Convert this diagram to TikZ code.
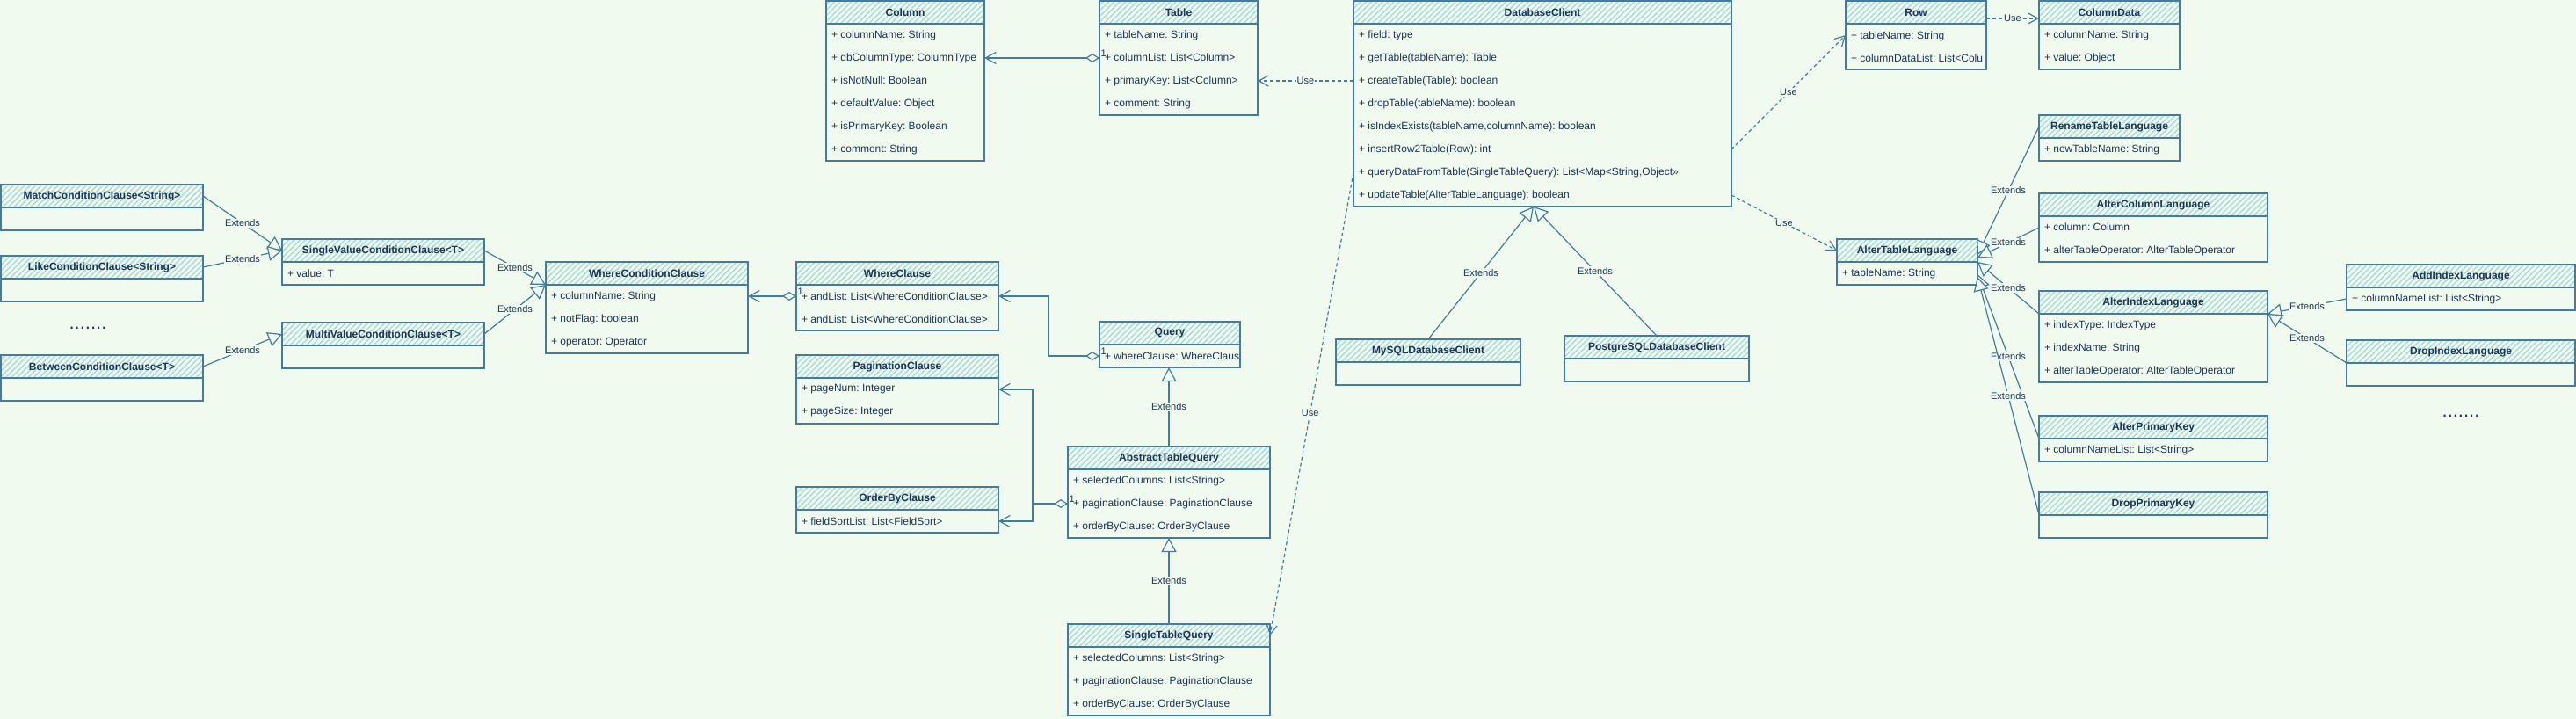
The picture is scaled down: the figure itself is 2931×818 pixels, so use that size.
\documentclass[tikz,border=0pt]{standalone}
\usepackage{fontspec}
\setmainfont{Liberation Sans}
\usetikzlibrary{arrows.meta,calc,patterns.meta}
\definecolor{bg}{HTML}{F1FAEE}
\definecolor{strk}{HTML}{457B9D}
\definecolor{hatch}{HTML}{A8DADC}
\definecolor{txt}{HTML}{1D3557}
\tikzset{
  hdr/.style={draw=strk, line width=1.3pt, pattern={Lines[angle=45,distance=4.5pt,line width=1.4pt]}, pattern color=hatch, minimum height=26pt, inner sep=0pt, outer sep=0pt, font=\fontsize{12}{14}\selectfont\bfseries, text=txt},
  bodybox/.style={draw=strk, line width=1.3pt, inner sep=0pt, outer sep=0pt},
  rowtext/.style={inner xsep=6pt, inner ysep=0pt, outer sep=0pt, align=left, font=\fontsize{12}{26}\selectfont, text=txt},
  lbl/.style={fill=bg, inner sep=1pt, font=\fontsize{11}{13}\selectfont, text=txt},
  mult/.style={inner sep=0pt, font=\fontsize{11}{13}\selectfont, text=txt},
  dotsnode/.style={inner sep=0pt, font=\fontsize{22}{24}\selectfont, text=txt},
  edge/.style={draw=strk, line width=1.2pt},
  ext/.style={edge, -{Triangle[fill=bg, length=16pt, width=17pt]}},
  agg/.style={edge, {Diamond[fill=bg, length=16pt, width=10pt]}-{Straight Barb[length=12pt, width=13pt]}},
  aggo/.style={edge, -{Straight Barb[length=12pt, width=13pt]}},
  use/.style={edge, dash pattern=on 4pt off 3pt, -{Straight Barb[length=11pt, width=12pt]}},
}
\newcommand{\umlcls}[7]{%
  \pgfmathsetmacro{\clsh}{26*#6}%
  \node[hdr, minimum width=#4pt, anchor=north west] (#1) at (#2,#3) {#5};
  \node[bodybox, minimum width=#4pt, minimum height=\clsh pt, anchor=north west] (#1B) at (#1.south west) {};
  \node[rowtext, minimum height=\clsh pt, anchor=north west] (#1T) at (#1B.north west) {#7};
}
\begin{document}
\frenchspacing
\begin{tikzpicture}[x=1pt,y=-1pt]
\fill[bg] (0,0) rectangle (2931,818);
\useasboundingbox (0,0) rectangle (2931,818);

% left: condition clauses
\umlcls{mcc}{1}{210}{230}{MatchConditionClause<String>}{1}{}
\umlcls{lcc}{1}{291}{230}{LikeConditionClause<String>}{1}{}
\umlcls{bcc}{1}{404}{230}{BetweenConditionClause<T>}{1}{}
\umlcls{svc}{321}{272}{230}{SingleValueConditionClause<T>}{1}{+ value: T}
\umlcls{mvc}{321}{367}{230}{MultiValueConditionClause<T>}{1}{}
\umlcls{wcc}{621}{298}{230}{WhereConditionClause}{3}{+ columnName: String\\+ notFlag: boolean\\+ operator: Operator}
\node[dotsnode] (dots1) at (100,373) {.......};

% clauses
\umlcls{wc}{906}{298}{230}{WhereClause}{2}{+ andList: List<WhereConditionClause>\\+ andList: List<WhereConditionClause>}
\umlcls{pc}{906}{404}{230}{PaginationClause}{2}{+ pageNum: Integer\\+ pageSize: Integer}
\umlcls{ob}{906}{554}{230}{OrderByClause}{1}{+ fieldSortList: List<FieldSort>}

% queries
\umlcls{qry}{1251}{366}{160}{Query}{1}{+ whereClause: WhereClaus}
\umlcls{atq}{1215}{508}{230}{AbstractTableQuery}{3}{+ selectedColumns: List<String>\\+ paginationClause: PaginationClause\\+ orderByClause: OrderByClause}
\umlcls{stq}{1215}{710}{230}{SingleTableQuery}{3}{+ selectedColumns: List<String>\\+ paginationClause: PaginationClause\\+ orderByClause: OrderByClause}

% top
\umlcls{col}{940}{1}{180}{Column}{6}{+ columnName: String\\+ dbColumnType: ColumnType\\+ isNotNull: Boolean\\+ defaultValue: Object\\+ isPrimaryKey: Boolean\\+ comment: String}
\umlcls{tbl}{1251}{1}{180}{Table}{4}{+ tableName: String\\+ columnList: List<Column>\\+ primaryKey: List<Column>\\+ comment: String}
\umlcls{dbc}{1540}{1}{430}{DatabaseClient}{8}{+ field: type\\+ getTable(tableName): Table\\+ createTable(Table): boolean\\+ dropTable(tableName): boolean\\+ isIndexExists(tableName,columnName): boolean\\+ insertRow2Table(Row): int\\+ queryDataFromTable(SingleTableQuery): List<Map<String,Object>>\\+ updateTable(AlterTableLanguage): boolean}
\umlcls{my}{1520}{386}{210}{MySQLDatabaseClient}{1}{}
\umlcls{pg}{1780}{382}{210}{PostgreSQLDatabaseClient}{1}{}
\umlcls{row}{2100}{1}{160}{Row}{2}{+ tableName: String\\+ columnDataList: List<Colu}
\umlcls{cd}{2320}{1}{160}{ColumnData}{2}{+ columnName: String\\+ value: Object}

% right: alter languages
\umlcls{rtl}{2320}{131}{160}{RenameTableLanguage}{1}{+ newTableName: String}
\umlcls{acl}{2320}{220}{260}{AlterColumnLanguage}{2}{+ column: Column\\+ alterTableOperator: AlterTableOperator}
\umlcls{atl}{2090}{272}{160}{AlterTableLanguage}{1}{+ tableName: String}
\umlcls{ail}{2320}{331}{260}{AlterIndexLanguage}{3}{+ indexType: IndexType\\+ indexName: String\\+ alterTableOperator: AlterTableOperator}
\umlcls{adl}{2670}{301}{260}{AddIndexLanguage}{1}{+ columnNameList: List<String>}
\umlcls{dil}{2670}{387}{260}{DropIndexLanguage}{1}{}
\umlcls{apk}{2320}{473}{260}{AlterPrimaryKey}{1}{+ columnNameList: List<String>}
\umlcls{dpk}{2320}{560}{260}{DropPrimaryKey}{1}{}
\node[dotsnode] (dots2) at (2800,473) {.......};

% ---- connectors ----
\draw[ext] (mcc.east) -- node[lbl] (x1) {Extends} (svc.west);
\draw[ext] (lcc.east) -- node[lbl] (x2) {Extends} (svc.west);
\draw[ext] (bcc.east) -- node[lbl] (x3) {Extends} (mvc.west);
\draw[ext] (svc.east) -- node[lbl] (x4) {Extends} (wcc.south west);
\draw[ext] (mvc.east) -- node[lbl] (x5) {Extends} (wcc.south west);

\draw[agg] ($(wc.south west)+(0,13)$) -- ($(wcc.south east)+(0,13)$);
\node[mult, anchor=south west] (m1) at ($(wc.south west)+(1.5,12)$) {1};

\draw[agg] ($(qry.south west)+(0,13)$) -- ++(-58,0) |- ($(wc.south east)+(0,13)$);
\node[mult, anchor=south west] (m2) at ($(qry.south west)+(1.5,12)$) {1};

\draw[agg] ($(atq.south west)+(0,39)$) -- ++(-40,0) |- ($(pc.south east)+(0,13)$);
\draw[aggo] ($(atq.south west)+(-40,39)$) |- ($(ob.south east)+(0,13)$);
\node[mult, anchor=south west] (m3) at ($(atq.south west)+(1.5,38)$) {1};

\draw[ext] (atq.north) -- node[lbl] (x6) {Extends} (atq.north |- qryB.south);
\draw[ext] (stq.north) -- node[lbl] (x7) {Extends} (atqB.south);

\draw[agg] ($(tbl.south west)+(0,39)$) -- ($(col.south east)+(0,39)$);
\node[mult, anchor=south west] (m4) at ($(tbl.south west)+(1.5,38)$) {1};

\draw[use] ($(dbc.south west)+(0,65)$) -- node[lbl] (u1) {Use} ($(tbl.south east)+(0,65)$);
\draw[use] ($(dbc.south east)+(0,143)$) -- node[lbl] (u2) {Use} ($(row.south west)+(0,13)$);
\draw[use] ($(dbc.south east)+(0,195)$) -- node[lbl] (u3) {Use} (atl.west);
\draw[use] ($(dbc.south west)+(0,169)$) -- node[lbl, pos=0.52] (u4) {Use} (stq.east);
\draw[use] ($(row.east)+(0,7)$) -- node[lbl] (u5) {Use} ($(cd.west)+(0,7)$);

\coordinate (dbcb) at ($(dbcB.south)+(-10,0)$);
\draw[ext] (my.north) -- node[lbl] (x8) {Extends} (dbcb);
\draw[ext] (pg.north) -- node[lbl] (x9) {Extends} (dbcb);

\draw[ext] (rtl.west) -- node[lbl] (x10) {Extends} ($(atl.east)+(0,5)$);
\draw[ext] ($(acl.south west)+(0,13)$) -- node[lbl] (x11) {Extends} ($(atl.east)+(0,8)$);
\draw[ext] (ail.south west) -- node[lbl] (x12) {Extends} (atl.south east);
\draw[ext] (apk.south west) -- node[lbl] (x13) {Extends} ($(atl.south east)+(0,14)$);
\draw[ext] (dpk.south west) -- node[lbl] (x14) {Extends} ($(atl.south east)+(0,17)$);
\draw[ext] ($(adl.south west)+(0,13)$) -- node[lbl] (x15) {Extends} (ail.south east);
\draw[ext] (dil.south west) -- node[lbl] (x16) {Extends} (ail.south east);
\end{tikzpicture}
\end{document}
